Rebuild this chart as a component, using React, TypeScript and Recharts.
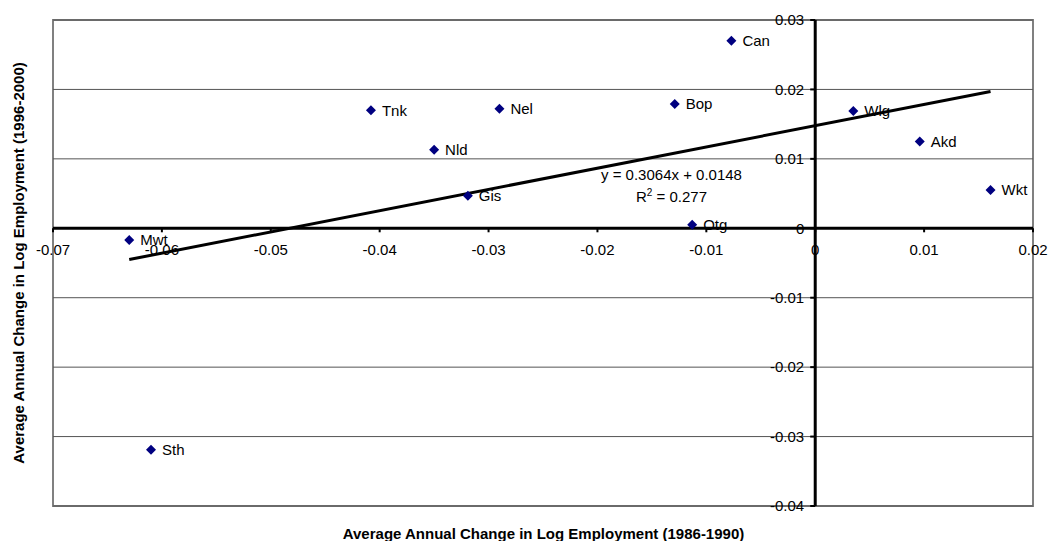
import {
  ScatterChart,
  Scatter,
  XAxis,
  YAxis,
  ReferenceLine,
  ReferenceDot,
  ReferenceArea,
} from 'recharts';

// Regions and their average annual change in log employment
const regions = ['Mwt', 'Sth', 'Tnk', 'Nel', 'Bop', 'Nld', 'Gis', 'Otg', 'Can', 'Wlg', 'Akd', 'Wkt'];
const change8690 = [-0.063, -0.061, -0.0408, -0.029, -0.0129, -0.035, -0.0319, -0.0113, -0.0077, 0.0035, 0.0096, 0.0161];
const change9600 = [-0.0017, -0.0319, 0.017, 0.0172, 0.0179, 0.0113, 0.0047, 0.0005, 0.027, 0.0169, 0.0125, 0.0055];

// Linear trendline end points (y = 0.3064x + 0.0148)
const trendX = [-0.063, 0.0161];
const trendY = [-0.0045, 0.0197];
const trendLabel = { x: -0.0132, y: 0.0077 };

const xTicks = [-0.07, -0.06, -0.05, -0.04, -0.03, -0.02, -0.01, 0, 0.01, 0.02];
const xTickLabels = ['-0.07', '-0.06', '-0.05', '-0.04', '-0.03', '-0.02', '-0.01', '0', '0.01', '0.02'];
const yTicks = [0.03, 0.02, 0.01, 0, -0.01, -0.02, -0.03, -0.04];
const yTickLabels = ['0.03', '0.02', '0.01', '0', '-0.01', '-0.02', '-0.03', '-0.04'];

const FONT = '"Liberation Sans", Arial, sans-serif';

const points = regions.map((name, i) => ({ name, x: change8690[i], y: change9600[i] }));

const DiamondWithLabel = (props: any) => {
  const { cx, cy, payload } = props;
  const r = 5;
  return (
    <g>
      <polygon
        points={`${cx},${cy - r} ${cx + r},${cy} ${cx},${cy + r} ${cx - r},${cy}`}
        fill="#000080"
      />
      <text x={cx + 11} y={cy} dy="0.35em" fontSize={15} fontFamily={FONT} fill="#000">
        {payload.name}
      </text>
    </g>
  );
};

const xTickShape = (label: string) => (props: any) => (
  <g>
    <line x1={props.cx} y1={props.cy} x2={props.cx} y2={props.cy + 4} stroke="#000" strokeWidth={2} />
    <text x={props.cx} y={props.cy + 21} dy="0.35em" textAnchor="middle" fontSize={15} fontFamily={FONT} fill="#000">
      {label}
    </text>
  </g>
);

const yTickShape = (label: string) => (props: any) => (
  <g>
    <line x1={props.cx - 5} y1={props.cy} x2={props.cx} y2={props.cy} stroke="#000" strokeWidth={2} />
    <text x={props.cx - 11} y={props.cy} dy="0.35em" textAnchor="end" fontSize={15} fontFamily={FONT} fill="#000">
      {label}
    </text>
  </g>
);

const equationShape = (props: any) => (
  <g fontFamily={FONT} fontSize={15} fill="#000">
    <text x={props.cx} y={props.cy} dy="0.35em" textAnchor="middle">
      y = 0.3064x + 0.0148
    </text>
    <text x={props.cx} y={props.cy + 22} dy="0.35em" textAnchor="middle">
      <tspan>R</tspan>
      <tspan dy={-6} fontSize={10}>2</tspan>
      <tspan dy={6}> = 0.277</tspan>
    </text>
  </g>
);

export default function App() {
  return (
    <div
      style={{
        position: 'fixed',
        left: 0,
        top: 0,
        width: 1049,
        height: 541,
        overflow: 'hidden',
        background: '#fff',
        fontFamily: FONT,
      }}
    >
      <ScatterChart width={1049} height={541} margin={{ top: 20, right: 16, bottom: 35, left: 53 }}>
        <XAxis type="number" dataKey="x" domain={[-0.07, 0.02]} ticks={xTicks} hide />
        <YAxis type="number" dataKey="y" domain={[-0.04, 0.03]} ticks={yTicks} hide />

        {yTicks.map((t) => (
          <ReferenceLine key={`grid-${t}`} y={t} stroke="#555" strokeWidth={1} ifOverflow="visible" />
        ))}
        <ReferenceArea
          x1={-0.07}
          x2={0.02}
          y1={-0.04}
          y2={0.03}
          fill="none"
          stroke="#808080"
          strokeWidth={2}
          ifOverflow="visible"
        />
        <ReferenceLine y={0} stroke="#000" strokeWidth={3} ifOverflow="visible" />
        <ReferenceLine x={0} stroke="#000" strokeWidth={3} ifOverflow="visible" />

        {xTicks.map((t, i) => (
          <ReferenceDot key={`xt-${t}`} x={t} y={0} r={0} ifOverflow="visible" shape={xTickShape(xTickLabels[i])} />
        ))}
        {yTicks.map((t, i) => (
          <ReferenceDot key={`yt-${t}`} x={0} y={t} r={0} ifOverflow="visible" shape={yTickShape(yTickLabels[i])} />
        ))}

        <ReferenceLine
          segment={[
            { x: trendX[0], y: trendY[0] },
            { x: trendX[1], y: trendY[1] },
          ]}
          stroke="#000"
          strokeWidth={3}
          ifOverflow="visible"
        />
        <ReferenceDot x={trendLabel.x} y={trendLabel.y} r={0} ifOverflow="visible" shape={equationShape} />

        <Scatter data={points} shape={DiamondWithLabel} isAnimationActive={false} />
      </ScatterChart>

      <div
        style={{
          position: 'absolute',
          left: 0,
          width: 1087,
          top: 526,
          textAlign: 'center',
          fontSize: 15,
          fontWeight: 'bold',
          lineHeight: '16px',
          color: '#000',
        }}
      >
        Average Annual Change in Log Employment (1986-1990)
      </div>
      <div
        style={{
          position: 'absolute',
          left: 19,
          top: 263,
          transform: 'translate(-50%, -50%) rotate(-90deg)',
          whiteSpace: 'nowrap',
          fontSize: 15,
          fontWeight: 'bold',
          lineHeight: '16px',
          color: '#000',
        }}
      >
        Average Annual Change in Log Employment (1996-2000)
      </div>
    </div>
  );
}
